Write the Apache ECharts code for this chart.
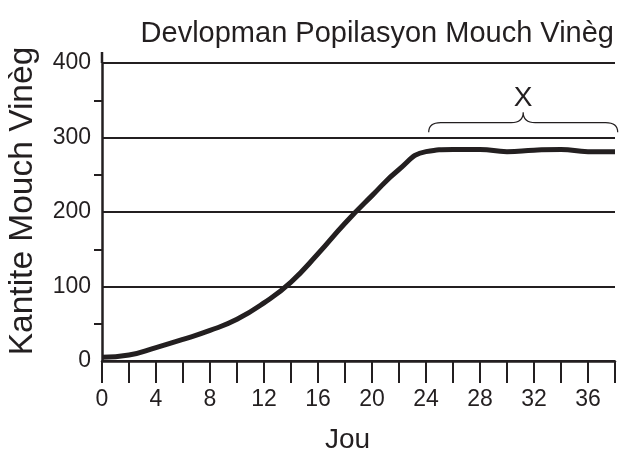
<!DOCTYPE html>
<html>
<head>
<meta charset="utf-8">
<script src="https://cdn.jsdelivr.net/npm/echarts@6/dist/echarts.min.js"></script>
<style>
  html, body { margin: 0; padding: 0; background: #fff; }
  #chart { width: 619px; height: 456px; }
</style>
</head>
<body>
<div id="chart"></div>
<script>
const days = [0, 2, 4, 6, 8, 10, 12, 14, 16, 18, 20, 22, 24, 26, 28, 30, 32, 34, 36, 38];
const flies = [5, 8, 18, 29, 41, 56, 78, 106, 144, 185, 222, 257, 281, 284, 284, 281, 283, 284, 281, 281];

const braceDays = [24.2, 38.2];
const braceLevels = [307, 320, 334];
const braceLabel = 'X';
const braceLabelLevel = 352;

const ink = '#231f20';
const font = '"Liberation Sans", Arial, Helvetica, sans-serif';

const chart = echarts.init(document.getElementById('chart'));

const option = {
  animation: false,
  backgroundColor: '#fff',
  textStyle: { fontFamily: font, color: ink },
  title: {
    text: 'Devlopman Popilasyon Mouch Vinèg',
    right: 0,
    top: 14,
    textStyle: { fontSize: 29, fontWeight: 'normal', color: ink, fontFamily: font }
  },
  grid: { left: 102, right: 4, top: 63, bottom: 95, containLabel: false, outerBoundsMode: 'none' },
  xAxis: {
    type: 'value',
    min: 0,
    max: 38,
    interval: 2,
    name: 'Jou',
    nameLocation: 'middle',
    nameGap: 65,
    nameTextStyle: { fontSize: 28, color: ink, padding: [0, 22, 0, 0] },
    axisLine: { lineStyle: { color: ink, width: 2.5 } },
    axisTick: { length: 22, lineStyle: { color: ink, width: 2 } },
    axisLabel: {
      margin: 27,
      fontSize: 23,
      color: ink,
      formatter: v => (v % 4 === 0 ? String(v) : '')
    },
    splitLine: { show: false }
  },
  yAxis: {
    type: 'value',
    min: 0,
    max: 400,
    interval: 100,
    name: 'Kantite Mouch Vinèg',
    nameLocation: 'middle',
    nameGap: 62,
    nameTextStyle: { fontSize: 33.5, color: ink, padding: [0, 0, 0, 22] },
    axisLine: { show: true, lineStyle: { color: ink, width: 2.5 } },
    axisTick: { show: false },
    minorTick: { show: true, splitNumber: 2, length: 8, lineStyle: { color: ink, width: 2 } },
    axisLabel: { margin: 11, fontSize: 23, color: ink },
    splitLine: { show: true, lineStyle: { color: ink, width: 2 } }
  },
  series: [
    {
      type: 'line',
      data: days.map((d, i) => [d, flies[i]]),
      smooth: 0.5,
      showSymbol: false,
      lineStyle: { color: ink, width: 5 },
      z: 5
    },
    {
      type: 'custom',
      clip: false,
      data: [[braceDays[0], braceLevels[0]]],
      renderItem(params, api) {
        const [x0, yEnd] = api.coord([braceDays[0], braceLevels[0]]);
        const x1 = api.coord([braceDays[1], braceLevels[0]])[0];
        const yBody = api.coord([0, braceLevels[1]])[1];
        const yTip = api.coord([0, braceLevels[2]])[1];
        const yText = api.coord([0, braceLabelLevel])[1];
        const xc = (x0 + x1) / 2;
        const r = 12;
        const d = `M${x0},${yEnd} Q${x0},${yBody} ${x0 + r},${yBody} L${xc - r},${yBody} ` +
          `Q${xc},${yBody} ${xc},${yTip} Q${xc},${yBody} ${xc + r},${yBody} ` +
          `L${x1 - r},${yBody} Q${x1},${yBody} ${x1},${yEnd}`;
        return {
          type: 'group',
          children: [
            {
              type: 'path',
              shape: { pathData: d },
              style: { fill: 'none', stroke: ink, lineWidth: 1.2 }
            },
            {
              type: 'text',
              style: {
                text: braceLabel,
                x: xc,
                y: yText,
                align: 'center',
                verticalAlign: 'middle',
                fontSize: 28,
                fontFamily: font,
                fill: ink
              }
            }
          ]
        };
      }
    }
  ]
};

chart.setOption(option);

// y axis line runs a little past 400 in the original
const axisX = chart.convertToPixel({ xAxisIndex: 0 }, 0);
const topY = chart.convertToPixel({ yAxisIndex: 0 }, 400);
chart.setOption({
  graphic: [{
    type: 'line',
    shape: { x1: axisX, y1: topY - 11, x2: axisX, y2: topY },
    style: { stroke: ink, lineWidth: 2.5 }
  }]
});
</script>
</body>
</html>
